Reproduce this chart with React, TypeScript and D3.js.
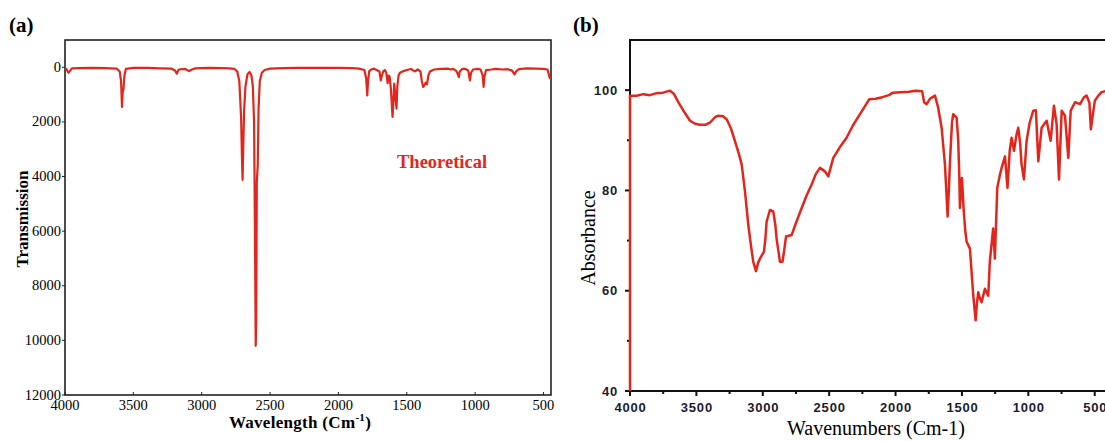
import React from "react";
import * as d3 from "d3";

// Panel (a): theoretical spectrum [wavenumber, transmission]
const specA: [number, number][] = [
  [4000, 40], [3990, 60], [3975, 200], [3962, 120], [3950, 40], [3900, 30], [3800, 20], [3700, 30],
  [3620, 50], [3600, 150], [3590, 500], [3583, 1450], [3578, 900], [3572, 800], [3565, 300], [3555, 60],
  [3500, 20], [3400, 20], [3300, 40], [3220, 50], [3195, 120], [3182, 230], [3168, 80], [3120, 60],
  [3092, 140], [3080, 100], [3050, 40], [2950, 20], [2850, 30], [2800, 40], [2760, 60], [2740, 150],
  [2725, 500], [2712, 1800], [2706, 3200], [2701, 4120], [2696, 2900], [2690, 1600], [2680, 700],
  [2665, 250], [2650, 170], [2636, 300], [2626, 700], [2617, 2000], [2611, 5700], [2605, 10200],
  [2601, 9200], [2597, 4200], [2590, 3580], [2584, 1500], [2575, 500], [2560, 200], [2540, 100],
  [2500, 50], [2450, 40], [2400, 30], [2300, 20], [2000, 20], [1900, 30], [1850, 50], [1810, 100],
  [1797, 400], [1789, 1030], [1783, 500], [1775, 150], [1760, 80], [1740, 50], [1720, 100], [1700, 150],
  [1690, 480], [1682, 300], [1672, 150], [1660, 100], [1650, 200], [1640, 580], [1632, 300], [1625, 350],
  [1616, 800], [1604, 1820], [1597, 1200], [1592, 600], [1584, 1000], [1575, 1510], [1569, 700],
  [1560, 300], [1550, 200], [1530, 150], [1500, 100], [1470, 60], [1440, 150], [1420, 80], [1400, 150],
  [1390, 500], [1380, 720], [1370, 650], [1362, 560], [1352, 620], [1342, 300], [1330, 150], [1300, 80],
  [1250, 60], [1200, 50], [1180, 80], [1160, 60], [1140, 120], [1126, 250], [1119, 360], [1112, 150],
  [1095, 60], [1070, 60], [1050, 120], [1038, 480], [1030, 200], [1015, 80], [980, 60], [960, 80],
  [945, 300], [938, 720], [932, 350], [920, 100], [880, 80], [850, 60], [800, 80], [760, 70], [730, 120],
  [712, 260], [700, 150], [680, 70], [620, 40], [550, 50], [500, 60], [470, 80], [455, 380], [446, 420],
];

// Panel (b): measured spectrum [wavenumber, absorbance]
const specB: [number, number][] = [
  [4000, 40], [4000, 98.9], [3950, 98.9], [3900, 99.2], [3850, 99.0], [3800, 99.4], [3750, 99.5],
  [3699, 99.9], [3670, 99.3], [3636, 97.6], [3600, 96.0], [3548, 93.9], [3510, 93.3], [3473, 93.1],
  [3430, 93.1], [3398, 93.5], [3360, 94.6], [3335, 94.9], [3300, 94.8], [3272, 94.2], [3240, 92.4],
  [3210, 89.9], [3180, 87.3], [3159, 85.2], [3134, 79.8], [3109, 73.1], [3090, 69.2], [3072, 65.8],
  [3051, 63.9], [3035, 65.6], [3021, 66.4], [2991, 67.8], [2980, 70.5], [2971, 73.8], [2946, 76.1],
  [2921, 75.8], [2905, 73.0], [2896, 70.4], [2880, 67.5], [2871, 65.8], [2851, 65.8], [2838, 68.2],
  [2825, 70.8], [2783, 71.1], [2750, 73.5], [2707, 76.5], [2670, 79.0], [2632, 81.2], [2600, 83.3],
  [2569, 84.5], [2532, 83.8], [2507, 82.8], [2469, 86.5], [2420, 88.6], [2369, 90.5], [2320, 93.0],
  [2268, 95.2], [2230, 96.8], [2198, 98.2], [2150, 98.3], [2100, 98.6], [2050, 99.0], [2020, 99.5],
  [1960, 99.6], [1900, 99.7], [1850, 99.9], [1800, 99.8], [1785, 97.6], [1766, 97.2], [1740, 98.3],
  [1703, 98.9], [1680, 96.6], [1653, 92.5], [1628, 85.2], [1608, 74.8], [1598, 80.5], [1590, 85.8],
  [1575, 93.5], [1566, 95.2], [1540, 94.5], [1528, 89.9], [1520, 83.0], [1515, 76.5], [1500, 82.5],
  [1488, 76.5], [1475, 72.0], [1465, 69.8], [1440, 68.4], [1428, 64.0], [1415, 59.1], [1397, 54.1],
  [1387, 57.5], [1377, 59.7], [1365, 58.5], [1352, 57.7], [1340, 59.0], [1327, 60.4], [1302, 59.0],
  [1290, 65.8], [1265, 72.4], [1252, 66.4], [1234, 80.5], [1215, 83.0], [1201, 84.5], [1176, 86.8],
  [1157, 80.5], [1140, 88.0], [1126, 90.5], [1108, 87.9], [1090, 91.0], [1076, 92.5], [1062, 89.5],
  [1051, 85.2], [1033, 82.2], [1013, 89.9], [990, 93.5], [963, 95.9], [943, 96.0], [925, 85.8],
  [900, 92.5], [862, 93.9], [832, 89.9], [807, 96.9], [787, 93.2], [769, 82.2], [749, 95.9], [724, 94.9],
  [699, 86.5], [681, 95.9], [648, 97.6], [611, 97.2], [580, 98.6], [561, 98.9], [540, 97.5], [529, 92.2],
  [515, 95.0], [499, 97.9], [470, 99.0], [448, 99.6], [420, 99.8],
];

const xTicksA = [4000, 3500, 3000, 2500, 2000, 1500, 1000, 500];
const yTicksA = [0, 2000, 4000, 6000, 8000, 10000, 12000];
const xTicksB = [4000, 3500, 3000, 2500, 2000, 1500, 1000, 500];
const xMinorB = [3750, 3250, 2750, 2250, 1750, 1250, 750];
const yTicksB = [40, 60, 80, 100];
const yMinorB = [50, 70, 90];

const RED = "#e3261c";
const SERIF = "'Liberation Serif', 'Times New Roman', serif";
const SANS = "'Liberation Sans', Arial, sans-serif";

export default function App() {
  // Panel (a) scales
  const xA = d3.scaleLinear().domain([4000, 445]).range([65, 551]);
  const yA = d3.scaleLinear().domain([-1000, 12000]).range([40, 395]);
  const lineA = d3.line<[number, number]>().x((d) => xA(d[0])).y((d) => yA(d[1]));

  // Panel (b) scales
  const xB = d3.scaleLinear().domain([4000, 400]).range([630, 1108]);
  const yB = d3.scaleLinear().domain([40, 110]).range([391, 40]);
  const lineB = d3.line<[number, number]>().x((d) => xB(d[0])).y((d) => yB(d[1]));

  const [a0, a1] = xA.range();
  const [aTop, aBot] = [yA(-1000), yA(12000)];
  const bBot = yB(40);

  return (
    <svg
      width={1105}
      height={441}
      style={{ position: "absolute", left: 0, top: 0, background: "#fff" }}
      fontFamily={SERIF}
    >
      <rect x={0} y={0} width={1105} height={441} fill="#fff" />
      <defs>
        <clipPath id="clipA">
          <rect x={a0} y={aTop} width={a1 - a0} height={aBot - aTop} />
        </clipPath>
        <clipPath id="clipB">
          <rect x={628} y={40} width={480} height={bBot - 40} />
        </clipPath>
      </defs>

      {/* ---------- Panel (a) ---------- */}
      <text x={9} y={32} fontSize={21} fontWeight="bold">(a)</text>
      <rect x={a0} y={aTop} width={a1 - a0} height={aBot - aTop} fill="none" stroke="#222" strokeWidth={1.6} />
      {yTicksA.map((t) => (
        <g key={"ya" + t}>
          <line x1={a0 - 3} x2={a0} y1={yA(t)} y2={yA(t)} stroke="#222" strokeWidth={1} />
          <text x={a0 - 4} y={yA(t) + 4.5} fontSize={14.5} textAnchor="end">{t}</text>
        </g>
      ))}
      {xTicksA.map((t) => (
        <g key={"xa" + t}>
          <line x1={xA(t)} x2={xA(t)} y1={aBot} y2={aBot - 3} stroke="#222" strokeWidth={1} />
          <text x={xA(t)} y={410} fontSize={14.5} textAnchor="middle">{t}</text>
        </g>
      ))}
      <path d={lineA(specA) ?? ""} fill="none" stroke={RED} strokeWidth={2.2} clipPath="url(#clipA)" strokeLinejoin="round" />
      <text x={397} y={168} fontSize={18.5} fontWeight="bold" fill={RED}>Theoretical</text>
      <text
        transform={`translate(28,219) rotate(-90)`}
        fontSize={17}
        fontWeight="bold"
        textAnchor="middle"
      >
        Transmission
      </text>
      <text x={300} y={428} fontSize={17} fontWeight="bold" textAnchor="middle" letterSpacing={0.3}>
        Wavelength (Cm
        <tspan fontSize={11} dy={-7}>-1</tspan>
        <tspan dy={7}>)</tspan>
      </text>

      {/* ---------- Panel (b) ---------- */}
      <text x={573} y={32} fontSize={21} fontWeight="bold">(b)</text>
      <line x1={630} x2={1105} y1={40} y2={40} stroke="#111" strokeWidth={2} />
      <line x1={630} x2={630} y1={39} y2={bBot + 1} stroke="#111" strokeWidth={2} />
      <line x1={629} x2={1105} y1={bBot} y2={bBot} stroke="#111" strokeWidth={2} />
      {yTicksB.map((t) => (
        <g key={"yb" + t}>
          <line x1={625} x2={630} y1={yB(t)} y2={yB(t)} stroke="#111" strokeWidth={2} />
          <text
            x={618}
            y={yB(t) + 4.5}
            fontSize={13}
            fontFamily={SANS}
            fontWeight="bold"
            letterSpacing={0.8}
            fill="#1c1c2e"
            textAnchor="end"
          >
            {t}
          </text>
        </g>
      ))}
      {yMinorB.map((t) => (
        <line key={"ybm" + t} x1={627} x2={630} y1={yB(t)} y2={yB(t)} stroke="#111" strokeWidth={2} />
      ))}
      {xTicksB.map((t) => (
        <g key={"xb" + t}>
          <line x1={xB(t)} x2={xB(t)} y1={bBot} y2={bBot + 5} stroke="#111" strokeWidth={2} />
          <text
            x={xB(t) + 0.5}
            y={412}
            fontSize={13}
            fontFamily={SANS}
            fontWeight="bold"
            letterSpacing={0.8}
            fill="#1c1c2e"
            textAnchor="middle"
          >
            {t}
          </text>
        </g>
      ))}
      {xMinorB.map((t) => (
        <line key={"xbm" + t} x1={xB(t)} x2={xB(t)} y1={bBot} y2={bBot + 3} stroke="#111" strokeWidth={2} />
      ))}
      <path d={lineB(specB) ?? ""} fill="none" stroke={RED} strokeWidth={2.5} clipPath="url(#clipB)" strokeLinejoin="round" />
      <text
        transform={`translate(595,238) rotate(-90)`}
        fontSize={20}
        textAnchor="middle"
      >
        Absorbance
      </text>
      <text x={876} y={435} fontSize={20} textAnchor="middle">Wavenumbers (Cm-1)</text>
    </svg>
  );
}
